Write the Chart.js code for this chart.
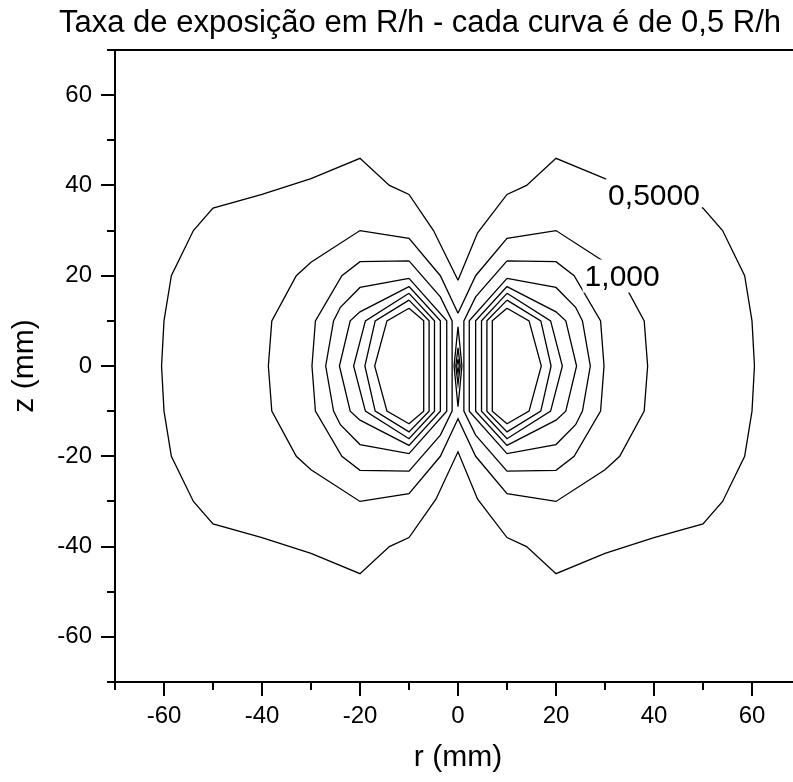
<!DOCTYPE html>
<html><head><meta charset="utf-8">
<script src="https://cdn.jsdelivr.net/npm/chart.js@4/dist/chart.umd.min.js"></script>
<style>html,body{margin:0;padding:0;overflow:hidden;background:#fff;width:793px;height:782px}canvas{display:block}</style>
</head><body>
<canvas id="c" width="820" height="782"></canvas>
<script>
const chartTitle = 'Taxa de exposição em R/h - cada curva é de 0,5 R/h';
const xAxisTitle = 'r (mm)';
const yAxisTitle = 'z (mm)';
const xRange = [-70, 70];
const yRange = [-70, 70];
const xTickLabels = [-60, -40, -20, 0, 20, 40, 60];
const yTickLabels = [-60, -40, -20, 0, 20, 40, 60];
const xMinorTicks = [-70, -50, -30, -10, 10, 30, 50, 70];
const yMinorTicks = [-70, -50, -30, -10, 10, 30, 50, 70];

// contour levels (R/h), each closed curve as [r, z] points
const contour050 = [[0,19],[4,29.5],[10,38],[14,40],[20,46],[30,41.5],[40,38],[50,35],[54,30],[58.5,20],[60,10],[60.5,0],[60,-10],[58.5,-20],[54,-30],[50,-35],[40,-38],[30,-41.5],[20,-46],[14,-40],[10,-38],[4,-29.5],[0,-19],[-4.5,-29.5],[-10,-38],[-14,-40],[-20,-46],[-30,-41.5],[-40,-38],[-50,-35],[-54,-30],[-58.5,-20],[-60,-10],[-60.5,0],[-60,10],[-58.5,20],[-54,30],[-50,35],[-40,38],[-30,41.5],[-20,46],[-14,40],[-10,38],[-5,30],[0,19]];
const contour100 = [[0,11.7],[3.6,20],[10,28.3],[20,30],[30,23],[33,20],[38,10],[38.7,0],[38,-10],[33,-20],[30,-23],[20,-30],[10,-28.3],[3.6,-20],[0,-11.7],[-3.6,-20],[-10,-28.3],[-20,-30],[-30,-23],[-33,-20],[-38,-10],[-38.7,0],[-38,10],[-33,20],[-30,23],[-20,30],[-10,28.3],[-3.6,20],[0,11.7]];

const lobeLeft150 = [[-10,23.3],[-20,23.1],[-23.7,20],[-29.1,10],[-29.8,0],[-29.1,-10],[-23.7,-20],[-20,-23.1],[-10,-23.3],[-3.6,-15.3],[-1.2,-10],[-1.2,0],[-1.2,10],[-3.6,15.3],[-10,23.3]];
const lobeLeft200 = [[-10,19.4],[-20,17.4],[-24,13],[-25.4,10],[-27,0],[-25.4,-10],[-24,-13],[-20,-17.4],[-10,-19.4],[-2.3,-10],[-2.3,0],[-2.3,10],[-10,19.4]];
const lobeLeft250 = [[-10,17.6],[-20,12],[-22,10],[-24.2,0],[-22,-10],[-20,-12],[-10,-17.6],[-3.6,-10],[-3.6,0],[-3.6,10],[-10,17.6]];
const lobeLeft300 = [[-10,16.1],[-18.9,10],[-21.3,0],[-18.9,-10],[-10,-16.1],[-4.8,-10],[-4.8,0],[-4.8,10],[-10,16.1]];
const lobeLeft350 = [[-10,14.6],[-16.9,10],[-19,0],[-16.9,-10],[-10,-14.6],[-5.9,-10],[-5.9,0],[-5.9,10],[-10,14.6]];
const lobeLeft400 = [[-10,12.8],[-14.5,10],[-17,0],[-14.5,-10],[-10,-12.8],[-7,-10],[-7,0],[-7,10],[-10,12.8]];

const lobeRight150 = [[10,23.3],[20,23.1],[23.7,20],[29.1,10],[29.8,0],[29.1,-10],[23.7,-20],[20,-23.1],[10,-23.3],[3.6,-15.3],[1.2,-10],[1.2,0],[1.2,10],[3.6,15.3],[10,23.3]];
const lobeRight200 = [[10,19.4],[20,17.4],[24,13],[25.4,10],[27,0],[25.4,-10],[24,-13],[20,-17.4],[10,-19.4],[2.3,-10],[2.3,0],[2.3,10],[10,19.4]];
const lobeRight250 = [[10,17.6],[20,12],[22,10],[24.2,0],[22,-10],[20,-12],[10,-17.6],[3.6,-10],[3.6,0],[3.6,10],[10,17.6]];
const lobeRight300 = [[10,16.1],[18.9,10],[21.3,0],[18.9,-10],[10,-16.1],[4.8,-10],[4.8,0],[4.8,10],[10,16.1]];
const lobeRight350 = [[10,14.6],[16.9,10],[19,0],[16.9,-10],[10,-14.6],[5.9,-10],[5.9,0],[5.9,10],[10,14.6]];
const lobeRight400 = [[10,12.8],[14.5,10],[17,0],[14.5,-10],[10,-12.8],[7,-10],[7,0],[7,10],[10,12.8]];

const centerOuter = [[0,8.7],[0.8,0],[0,-9],[-0.8,0],[0,8.7]];
const centerMiddle = [[0,4],[0.45,0],[0,-4],[-0.45,0],[0,4]];
const centerInner = [[0,1.5],[0.25,0],[0,-1.5],[-0.25,0],[0,1.5]];

const contourLabels = [
  {text: '0,5000', r: 40, z: 37.6},
  {text: '1,000', r: 33.5, z: 19.6}
];

const FONT = '"Liberation Sans", Arial, Helvetica, sans-serif';
Chart.defaults.font.family = FONT;
Chart.defaults.color = '#000';

const curves = [contour050, contour100,
  lobeLeft150, lobeLeft200, lobeLeft250, lobeLeft300, lobeLeft350, lobeLeft400,
  lobeRight150, lobeRight200, lobeRight250, lobeRight300, lobeRight350, lobeRight400,
  centerOuter, centerMiddle, centerInner];

const datasets = curves.map((c, i) => ({
  label: 'c' + i,
  data: c.map(([x, y]) => ({x, y})),
  showLine: true,
  borderColor: '#000',
  borderWidth: 1.3,
  pointRadius: 0,
  fill: false,
  tension: 0
}));

const decor = {
  id: 'decor',
  afterDatasetsDraw(chart) {
    const ctx = chart.ctx, xs = chart.scales.x, ys = chart.scales.y;
    ctx.save();
    ctx.font = '30px ' + FONT;
    ctx.textAlign = 'center';
    ctx.textBaseline = 'middle';
    contourLabels.forEach(l => {
      const px = xs.getPixelForValue(l.r), py = ys.getPixelForValue(l.z);
      const w = ctx.measureText(l.text).width;
      ctx.fillStyle = '#fff';
      ctx.fillRect(px - w / 2 - 2, py - 18, w + 4, 33);
      ctx.fillStyle = '#000';
      ctx.fillText(l.text, px, py);
    });
    ctx.restore();
  },
  afterDraw(chart) {
    const ctx = chart.ctx, xs = chart.scales.x, ys = chart.scales.y, a = chart.chartArea;
    ctx.save();
    ctx.strokeStyle = '#000';
    ctx.lineWidth = 2;
    ctx.beginPath();
    ctx.moveTo(a.left - 1, Math.round(a.top));
    ctx.lineTo(a.right + 1, Math.round(a.top));
    ctx.moveTo(Math.round(a.right), a.top);
    ctx.lineTo(Math.round(a.right), a.bottom);
    const b = Math.round(a.bottom), l = Math.round(a.left);
    xTickLabels.forEach(v => { const p = Math.round(xs.getPixelForValue(v)); ctx.moveTo(p, b); ctx.lineTo(p, b + 14); });
    xMinorTicks.forEach(v => { const p = Math.round(xs.getPixelForValue(v)); ctx.moveTo(p, b); ctx.lineTo(p, b + 8); });
    yTickLabels.forEach(v => { const p = Math.round(ys.getPixelForValue(v)); ctx.moveTo(l, p); ctx.lineTo(l - 14, p); });
    yMinorTicks.forEach(v => { const p = Math.round(ys.getPixelForValue(v)); ctx.moveTo(l, p); ctx.lineTo(l - 8, p); });
    ctx.stroke();
    ctx.fillStyle = '#000';
    ctx.font = '31px ' + FONT;
    ctx.textAlign = 'center';
    ctx.textBaseline = 'alphabetic';
    ctx.fillText(chartTitle, 420, 32);
    ctx.restore();
  }
};

new Chart(document.getElementById('c'), {
  type: 'scatter',
  data: {datasets},
  plugins: [decor],
  options: {
    responsive: false,
    animation: false,
    devicePixelRatio: 1,
    layout: {padding: {left: 0, right: 19, top: 50, bottom: 0}},
    plugins: {legend: {display: false}, tooltip: {enabled: false}, title: {display: false}},
    scales: {
      x: {
        type: 'linear', position: 'bottom', min: xRange[0], max: xRange[1],
        afterBuildTicks: s => { s.ticks = xTickLabels.map(v => ({value: v})); },
        afterFit: s => { s.height = 100; },
        grid: {display: false, drawTicks: false},
        border: {display: true, color: '#000', width: 2},
        ticks: {color: '#000', font: {size: 24}, padding: 20, maxRotation: 0, autoSkip: false, callback: v => String(v)},
        title: {display: true, text: xAxisTitle, color: '#000', font: {size: 30}, padding: {top: 0, bottom: 6}}
      },
      y: {
        type: 'linear', position: 'left', min: yRange[0], max: yRange[1],
        afterBuildTicks: s => { s.ticks = yTickLabels.map(v => ({value: v})); },
        afterFit: s => { s.width = 115; },
        grid: {display: false, drawTicks: false},
        border: {display: true, color: '#000', width: 2},
        ticks: {color: '#000', font: {size: 24}, padding: 23, autoSkip: false, callback: v => String(v)},
        title: {display: true, text: yAxisTitle, color: '#000', font: {size: 30}, padding: {top: 7, bottom: 0}}
      }
    }
  }
});
</script>
</body></html>
